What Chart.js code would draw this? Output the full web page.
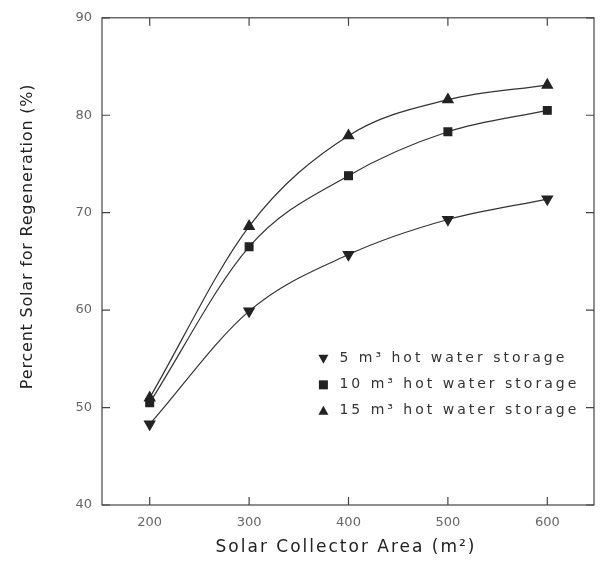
<!DOCTYPE html>
<html>
<head>
<meta charset="utf-8">
<script src="https://cdn.jsdelivr.net/npm/chart.js@4.4.0/dist/chart.umd.min.js"></script>
<style>
  html, body { margin: 0; padding: 0; background: #fff; }
  #wrap { width: 603px; height: 575px; }
</style>
</head>
<body>
<div id="wrap"><canvas id="solarChart"></canvas></div>
<script>
// collector area (m2) and percent solar for each storage size
const areas = [200, 300, 400, 500, 600];
const storage5 = [48.3, 59.9, 65.7, 69.3, 71.4];
const storage10 = [50.5, 66.5, 73.8, 78.3, 80.5];
const storage15 = [51.0, 68.6, 77.9, 81.6, 83.1];
const xTicks = [200, 300, 400, 500, 600];
const yTicks = [40, 50, 60, 70, 80, 90];
const seriesLabels = ["5 m\u00b3 hot water storage", "10 m\u00b3 hot water storage", "15 m\u00b3 hot water storage"];
const xTitle = "Solar Collector Area (m\u00b2)";
const yTitle = "Percent Solar for Regeneration (%)";

const ink = "#222";
const font = "'DejaVu Sans', sans-serif";

const toPoints = (vals) => vals.map((v, i) => ({ x: areas[i], y: v }));

// box round the plot, with short ticks pointing inwards on all four sides
const framePlugin = {
  id: "frame",
  afterDraw(chart) {
    const { ctx, chartArea: a, scales } = chart;
    ctx.save();
    ctx.strokeStyle = "#444";
    ctx.lineWidth = 1.2;
    ctx.strokeRect(a.left, a.top, a.right - a.left, a.bottom - a.top);
    ctx.beginPath();
    xTicks.forEach((t) => {
      const px = scales.x.getPixelForValue(t);
      ctx.moveTo(px, a.bottom); ctx.lineTo(px, a.bottom - 8);
      ctx.moveTo(px, a.top); ctx.lineTo(px, a.top + 8);
    });
    yTicks.forEach((t) => {
      const py = scales.y.getPixelForValue(t);
      ctx.moveTo(a.left, py); ctx.lineTo(a.left + 8, py);
      ctx.moveTo(a.right, py); ctx.lineTo(a.right - 8, py);
    });
    ctx.stroke();
    ctx.restore();
  },
};

// axis titles drawn by hand so they can get the wide letter spacing of the original
const titlesPlugin = {
  id: "titles",
  afterDraw(chart) {
    const { ctx, chartArea: a } = chart;
    ctx.save();
    ctx.fillStyle = "#222";
    ctx.textAlign = "center";
    ctx.textBaseline = "middle";
    ctx.font = "17px " + font;
    ctx.letterSpacing = "2px";
    ctx.fillText(xTitle, (a.left + a.right) / 2 - 2, a.bottom + 43);
    ctx.translate(28, (a.top + a.bottom) / 2 - 25);
    ctx.rotate(-Math.PI / 2);
    ctx.font = "16px " + font;
    ctx.letterSpacing = "0.8px";
    ctx.fillText(yTitle, 0, 0);
    ctx.restore();
  },
};

// legend drawn inside the plot, lower right
const insideLegend = {
  id: "insideLegend",
  afterDraw(chart) {
    const { ctx, chartArea: a } = chart;
    const x0 = a.left + (a.right - a.left) * 0.45;
    const y0 = a.top + (a.bottom - a.top) * 0.70;
    ctx.save();
    ctx.font = "14px " + font;
    ctx.letterSpacing = "3px";
    ctx.textBaseline = "middle";
    chart.data.datasets.forEach((ds, i) => {
      const y = y0 + i * 26;
      ctx.fillStyle = ink;
      ctx.beginPath();
      if (ds.pointStyle === "rect") {
        ctx.fillRect(x0 - 4.5, y - 4.5, 9, 9);
      } else if (ds.pointRotation === 180) {
        ctx.moveTo(x0 - 5, y - 4); ctx.lineTo(x0 + 5, y - 4); ctx.lineTo(x0, y + 5);
        ctx.fill();
      } else {
        ctx.moveTo(x0 - 5, y + 4); ctx.lineTo(x0 + 5, y + 4); ctx.lineTo(x0, y - 5);
        ctx.fill();
      }
      ctx.fillStyle = "#333";
      ctx.fillText(ds.label, x0 + 16, y);
    });
    ctx.restore();
  },
};

const makeSet = (label, vals, style, rot, r) => ({
  label: label,
  data: toPoints(vals),
  borderColor: "#333",
  borderWidth: 1.2,
  backgroundColor: ink,
  pointBackgroundColor: ink,
  pointBorderColor: ink,
  pointStyle: style,
  pointRotation: rot,
  pointRadius: r,
  cubicInterpolationMode: "monotone",
  fill: false,
});

new Chart(document.getElementById("solarChart"), {
  type: "line",
  data: {
    datasets: [
      makeSet(seriesLabels[0], storage5, "triangle", 180, 6),
      makeSet(seriesLabels[1], storage10, "rect", 0, 5.5),
      makeSet(seriesLabels[2], storage15, "triangle", 0, 6),
    ],
  },
  options: {
    responsive: true,
    maintainAspectRatio: false,
    animation: false,
    layout: { padding: { top: 15, right: 9, left: 66, bottom: 40 } },
    plugins: { legend: { display: false }, tooltip: { enabled: false } },
    scales: {
      x: {
        type: "linear",
        min: 152,
        max: 647,
        afterBuildTicks: (axis) => { axis.ticks = xTicks.map((v) => ({ value: v })); },
        afterFit: (axis) => { axis.height = 30; },
        grid: { display: false, drawTicks: false },
        border: { display: false },
        ticks: { color: "#666", font: { family: font, size: 13 }, padding: 10, maxRotation: 0 },
      },
      y: {
        min: 40,
        max: 90,
        afterBuildTicks: (axis) => { axis.ticks = yTicks.map((v) => ({ value: v })); },
        afterFit: (axis) => { axis.width = 36; },
        grid: { display: false, drawTicks: false },
        border: { display: false },
        ticks: { color: "#666", font: { family: font, size: 13 }, padding: 10 },
      },
    },
  },
  plugins: [framePlugin, titlesPlugin, insideLegend],
});
</script>
</body>
</html>
